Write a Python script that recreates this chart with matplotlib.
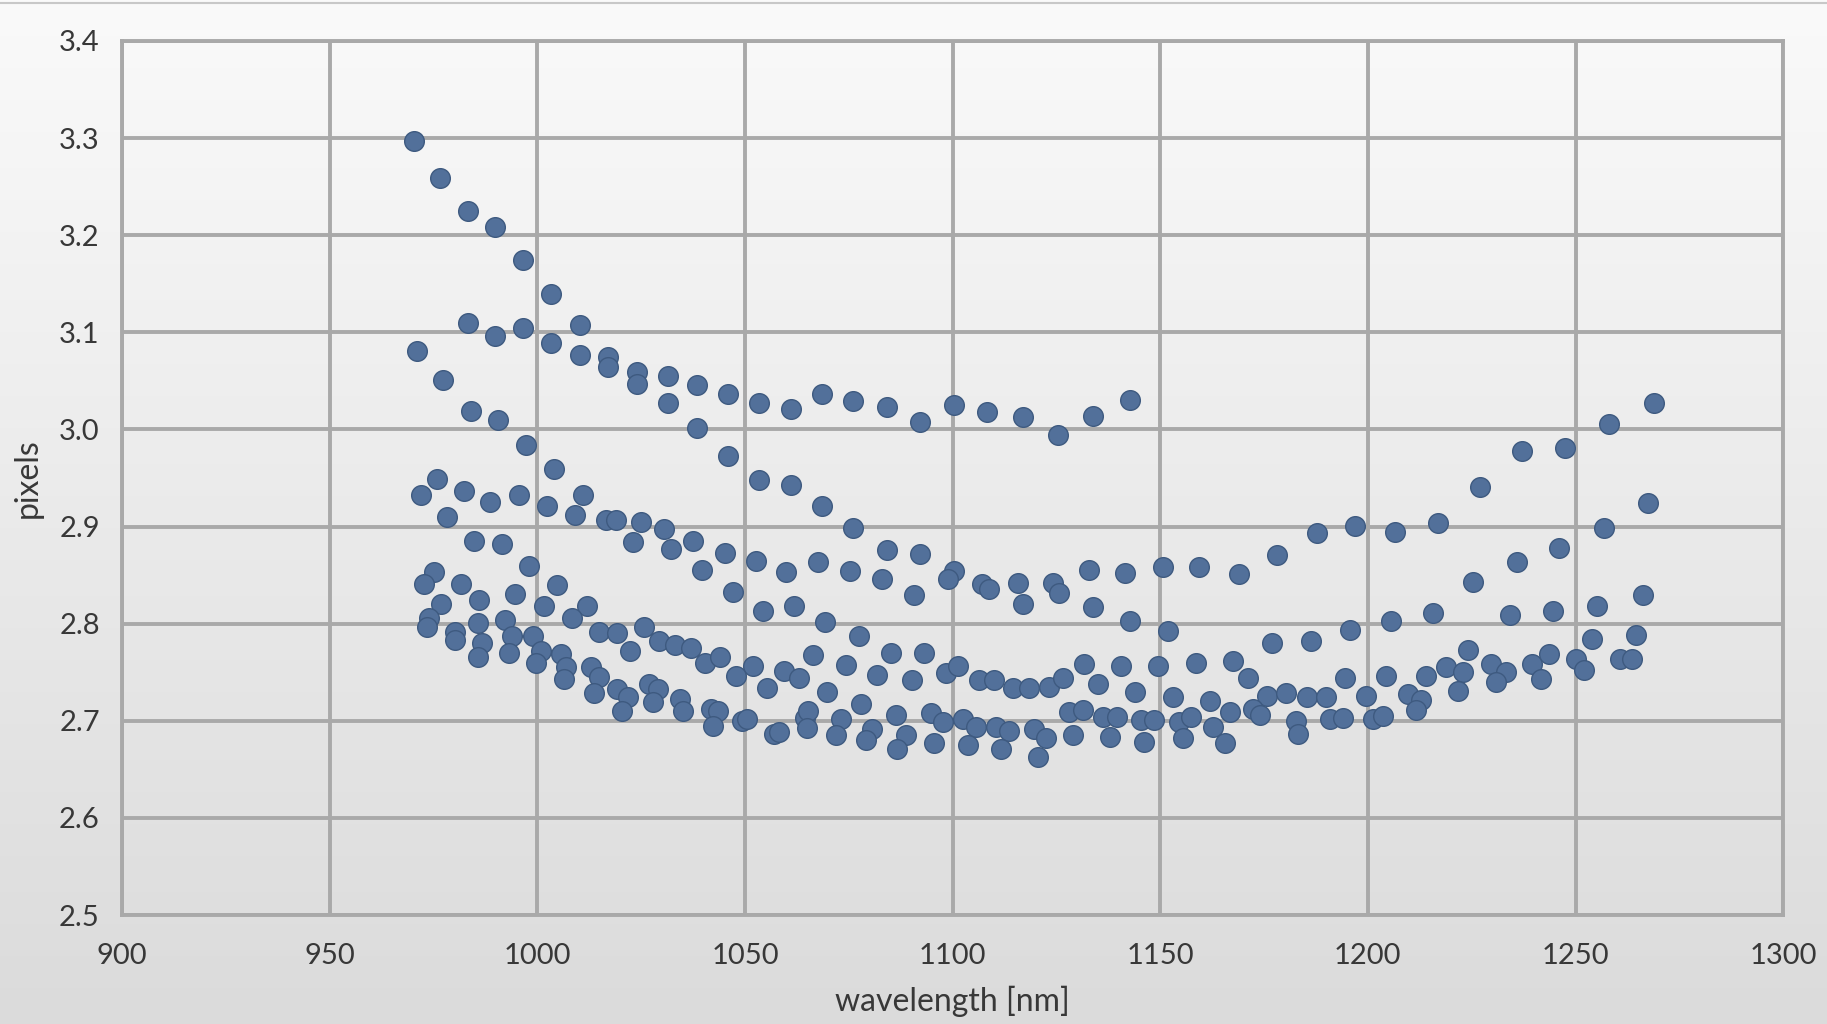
import numpy as np
import matplotlib.pyplot as plt
from matplotlib.colors import LinearSegmentedColormap
from matplotlib.lines import Line2D

# upper branch, starts near 3.3
top_x = [970.2, 976.6, 983.2, 989.8, 996.5, 1003.2, 1010.3, 1016.9, 1016.9, 1023.9, 1023.9,
         1031.4, 1038.5, 1045.8, 1053.5, 1061.1, 1068.5, 1076.1, 1084.3, 1092.1, 1100.4,
         1108.4, 1117.0, 1125.3, 1133.7, 1142.7]
top_y = [3.297, 3.259, 3.225, 3.208, 3.174, 3.139, 3.108, 3.075, 3.064, 3.059, 3.047,
         3.055, 3.046, 3.037, 3.027, 3.021, 3.036, 3.029, 3.023, 3.008, 3.025,
         3.018, 3.013, 2.994, 3.014, 3.030]

# second branch, dips to 2.85 and comes back up to 3.03
second_x = [971.0, 977.4, 983.2, 984.0, 989.8, 990.6, 996.5, 997.3, 1003.2, 1003.9, 1010.3,
            1031.4, 1038.5, 1045.8, 1053.5, 1061.1, 1068.5, 1076.1, 1084.3, 1092.1, 1100.4,
            1098.8, 1107.1, 1108.8, 1115.8, 1124.1, 1125.7, 1132.9, 1141.5, 1150.6, 1159.4,
            1169.0, 1178.0, 1187.8, 1197.0, 1206.6, 1216.8, 1227.0, 1237.0, 1247.4, 1258.0,
            1268.8]
second_y = [3.081, 3.051, 3.110, 3.019, 3.096, 3.010, 3.104, 2.984, 3.089, 2.959, 3.077,
            3.027, 3.002, 2.973, 2.948, 2.943, 2.921, 2.899, 2.876, 2.872, 2.854,
            2.846, 2.841, 2.836, 2.842, 2.842, 2.832, 2.855, 2.852, 2.858, 2.858,
            2.851, 2.871, 2.893, 2.901, 2.894, 2.904, 2.941, 2.978, 2.981, 3.006,
            3.027]

# third branch, around 2.93 on the left
third_x = [975.8, 971.9, 982.4, 988.7, 995.7, 1011.0, 1002.4, 978.2, 1009.1, 1016.5, 1018.9,
           1025.0, 1030.6, 1023.1, 1032.1, 1037.5, 1045.2, 1039.6, 1052.7, 1059.9, 1067.7,
           1047.0, 1054.4, 1061.9, 1069.2, 1075.3, 1083.1, 1090.8, 1117.0, 1133.7, 1142.8,
           1151.8, 1176.8, 1186.4, 1195.8, 1205.6, 1215.6, 1225.4, 1235.8, 1246.0, 1256.8,
           1267.4, 1234.2, 1244.6, 1255.2, 1266.2]
third_y = [2.949, 2.932, 2.937, 2.925, 2.933, 2.933, 2.921, 2.910, 2.912, 2.907, 2.907,
           2.905, 2.897, 2.884, 2.877, 2.885, 2.873, 2.855, 2.865, 2.853, 2.863,
           2.833, 2.813, 2.818, 2.802, 2.854, 2.846, 2.830, 2.820, 2.817, 2.803,
           2.792, 2.780, 2.782, 2.793, 2.803, 2.811, 2.843, 2.864, 2.878, 2.899,
           2.924, 2.809, 2.813, 2.818, 2.830]

# fourth branch, 2.88 to 2.72
fourth_x = [984.8, 991.5, 998.1, 975.0, 972.6, 981.7, 994.6, 1004.8, 985.9, 976.9, 1001.6,
            1011.9, 1008.3, 973.8, 973.4, 985.6, 992.2, 980.2, 980.2, 986.7, 985.7, 993.8,
            993.1, 999.0, 1001.0, 999.6, 1014.8, 1019.1, 1025.8, 1022.3, 1029.4, 1033.1,
            1036.9, 1040.3, 1044.0, 1051.9, 1047.8, 1055.4, 1059.3, 1063.1, 1066.5, 1069.8,
            1077.4, 1074.3, 1085.1, 1093.2, 1081.9, 1090.2, 1077.9, 1098.4, 1101.4, 1106.4,
            1110.0, 1114.5, 1118.5, 1123.3, 1126.5, 1131.7, 1135.1, 1140.6, 1144.0, 1149.4,
            1153.0, 1158.5, 1161.9, 1166.7, 1167.6, 1171.2, 1175.6, 1180.2, 1185.3, 1190.0,
            1194.6, 1199.6, 1204.4, 1209.6, 1214.0, 1212.8, 1224.2, 1218.8, 1222.8, 1221.6,
            1229.6, 1233.2, 1230.8, 1239.6, 1243.6, 1241.6, 1250.0, 1252.0, 1254.0, 1264.6,
            1260.8, 1263.6]
fourth_y = [2.885, 2.882, 2.859, 2.853, 2.841, 2.841, 2.831, 2.840, 2.824, 2.820, 2.818,
            2.818, 2.806, 2.806, 2.797, 2.801, 2.804, 2.791, 2.783, 2.780, 2.766, 2.787,
            2.770, 2.787, 2.772, 2.760, 2.791, 2.790, 2.797, 2.772, 2.782, 2.778,
            2.775, 2.760, 2.766, 2.756, 2.746, 2.734, 2.751, 2.744, 2.768, 2.730,
            2.787, 2.757, 2.770, 2.770, 2.747, 2.742, 2.717, 2.749, 2.756, 2.742,
            2.742, 2.734, 2.734, 2.735, 2.744, 2.758, 2.738, 2.756, 2.730, 2.756,
            2.725, 2.760, 2.720, 2.709, 2.762, 2.744, 2.726, 2.729, 2.724, 2.724,
            2.744, 2.726, 2.746, 2.728, 2.746, 2.721, 2.773, 2.755, 2.750, 2.731,
            2.758, 2.750, 2.740, 2.758, 2.769, 2.743, 2.764, 2.752, 2.784, 2.788,
            2.764, 2.764]

# lowest branch, bottoms out near 2.67
bottom_x = [1005.6, 1006.9, 1006.5, 1012.9, 1014.9, 1013.7, 1019.1, 1021.8, 1020.4, 1026.9,
            1029.0, 1027.8, 1034.3, 1035.2, 1041.9, 1043.5, 1042.3, 1049.2, 1050.4, 1056.9,
            1058.1, 1064.5, 1065.3, 1064.9, 1073.1, 1071.9, 1080.7, 1079.1, 1086.3, 1088.7,
            1086.7, 1094.8, 1097.6, 1095.6, 1102.4, 1105.6, 1103.6, 1110.4, 1113.7, 1111.6,
            1119.7, 1122.5, 1120.5, 1128.1, 1131.3, 1128.9, 1136.1, 1139.7, 1137.8, 1145.4,
            1148.6, 1146.2, 1154.6, 1157.4, 1155.4, 1162.7, 1165.5, 1172.4, 1174.0, 1182.8,
            1183.2, 1190.8, 1194.0, 1201.2, 1203.6, 1211.6]
bottom_y = [2.769, 2.755, 2.743, 2.755, 2.745, 2.729, 2.733, 2.724, 2.710, 2.738,
            2.733, 2.719, 2.722, 2.710, 2.712, 2.710, 2.695, 2.700, 2.702, 2.686,
            2.688, 2.703, 2.710, 2.693, 2.702, 2.685, 2.692, 2.680, 2.706, 2.685,
            2.671, 2.708, 2.699, 2.677, 2.702, 2.694, 2.675, 2.694, 2.689, 2.671,
            2.692, 2.682, 2.663, 2.709, 2.711, 2.685, 2.704, 2.704, 2.683, 2.701,
            2.701, 2.678, 2.699, 2.704, 2.682, 2.694, 2.677, 2.712, 2.706, 2.700,
            2.686, 2.702, 2.703, 2.702, 2.705, 2.711]

x_ticks = [900, 950, 1000, 1050, 1100, 1150, 1200, 1250, 1300]
y_ticks = [2.5, 2.6, 2.7, 2.8, 2.9, 3.0, 3.1, 3.2, 3.3, 3.4]

plt.rcParams['font.family'] = ['Lato', 'DejaVu Sans']
text_col = '#383838'
grid_col = '#a9a9a9'

fig = plt.figure(figsize=(18.27, 10.24), dpi=100)

# light grey vertical gradient behind everything
bg = fig.add_axes([0, 0, 1, 1], zorder=-1)
grad = np.linspace(0, 1, 256).reshape(-1, 1)
bg.imshow(grad, aspect='auto', extent=[0, 1, 0, 1],
          cmap=LinearSegmentedColormap.from_list('bg', ['#dbdbdb', '#fafafa']), origin='lower')
bg.set_axis_off()
fig.add_artist(Line2D([0, 1], [1 - 3 / 1024] * 2, color='#c8c8c8', lw=1.5))

ax = fig.add_axes([0.0668, 0.1064, 0.9092, 0.8536])
ax.set_facecolor('none')

for xs, ys in [(top_x, top_y), (second_x, second_y), (third_x, third_y),
               (fourth_x, fourth_y), (bottom_x, bottom_y)]:
    ax.scatter(xs, ys, s=200, c='#52709a', edgecolors='#3e5a80', linewidths=1.0, zorder=3)

ax.set_xlim(900, 1300)
ax.set_ylim(2.5, 3.4)
ax.set_xticks(x_ticks)
ax.set_yticks(y_ticks)
ax.set_yticklabels([f'{v:.1f}' for v in y_ticks])
ax.grid(True, color=grid_col, lw=2.8)
ax.set_axisbelow(True)
for sp in ax.spines.values():
    sp.set_color(grid_col)
    sp.set_linewidth(2.8)
ax.tick_params(length=0, labelsize=21, labelcolor=text_col)
ax.tick_params(axis='x', pad=20)
ax.tick_params(axis='y', pad=16)

ax.set_xlabel('wavelength [nm]', fontsize=23, color=text_col, labelpad=12)
ax.set_ylabel('pixels', fontsize=23, color=text_col, labelpad=12)

fig.savefig('out.png', dpi=100)
